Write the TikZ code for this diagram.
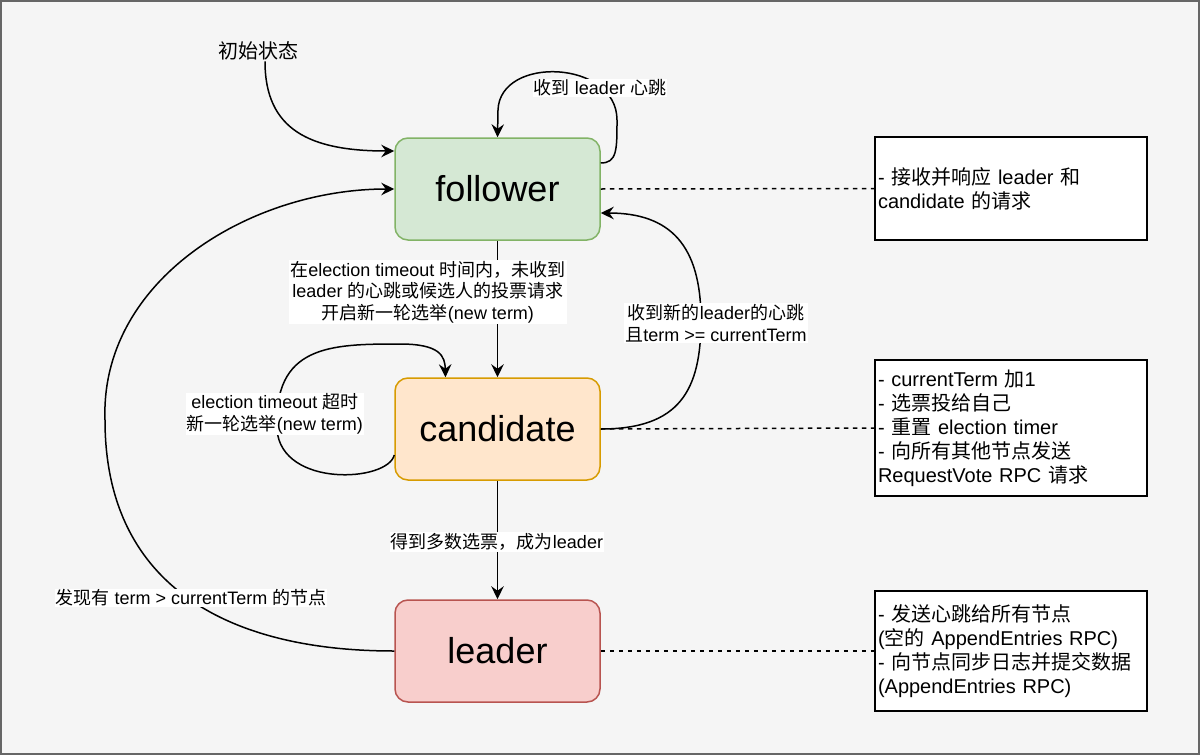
\documentclass[tikz,border=0pt]{standalone}
\usepackage{fontspec}
\setmainfont{Liberation Sans}
\newfontfamily\zhfont{Noto Sans CJK SC}
\newcommand\zh[1]{{\zhfont #1}}
\usetikzlibrary{arrows.meta}
\definecolor{bgc}{HTML}{F5F5F5}
\definecolor{frame}{HTML}{666666}
\definecolor{gfill}{HTML}{D5E8D4}
\definecolor{gline}{HTML}{82B366}
\definecolor{ofill}{HTML}{FFE6CC}
\definecolor{oline}{HTML}{D79B00}
\definecolor{rfill}{HTML}{F8CECC}
\definecolor{rline}{HTML}{B85450}
\begin{document}
\begin{tikzpicture}[x=1pt,y=-1pt,
  statebox/.style={rounded corners=13pt, minimum width=205pt, minimum height=102pt,
    line width=1.5pt, inner sep=0pt, font=\fontsize{36}{43}\selectfont},
  descbox/.style={draw=black, fill=white, line width=1.5pt, minimum width=272pt,
    text width=266pt, align=left, inner xsep=3pt, inner ysep=0pt,
    font=\fontsize{20}{24}\selectfont},
  lbl/.style={fill=white, inner sep=1pt, align=center, font=\fontsize{18}{21.6}\selectfont},
  arr/.style={line width=1.5pt, -{Stealth[length=13pt,width=12.5pt,inset=4.5pt]}},
  dline/.style={line width=1.5pt, dash pattern=on 4.5pt off 4.5pt}]
\useasboundingbox (0,0) rectangle (1200,755);
\fill[bgc] (0,0) rectangle (1200,755);
\draw[frame, line width=2pt] (1,1) rectangle (1199,754);

% states
\node[statebox, draw=gline, fill=gfill] (follower) at (497.5,189) {follower};
\node[statebox, draw=oline, fill=ofill] (candidate) at (497.5,429) {candidate};
\node[statebox, draw=rline, fill=rfill] (leader) at (497.5,651) {leader};

% descriptions
\node[descbox, minimum height=103pt] (fdesc) at (1011,188.5)
  {- \zh{接收并响应} leader \zh{和}\\candidate \zh{的请求}};
\node[descbox, minimum height=136pt] (cdesc) at (1011,428)
  {- currentTerm \zh{加}1\\- \zh{选票投给自己}\\- \zh{重置} election timer\\- \zh{向所有其他节点发送}\\RequestVote RPC \zh{请求}};
\node[descbox, minimum height=120pt] (ldesc) at (1011,651)
  {- \zh{发送心跳给所有节点}\\(\zh{空的} AppendEntries RPC)\\- \zh{向节点同步日志并提交数据}\\(AppendEntries RPC)};

\draw[dline] (follower.east) -- (fdesc.west);
\draw[dline] (candidate.east) -- (cdesc.west);
\draw[dline] (leader.east) -- (ldesc.west);

% initial
\node[inner sep=1pt, font=\fontsize{20}{24}\selectfont] (init) at (258,51) {\zh{初始状态}};
\draw[arr] ([xshift=7pt]init.south) .. controls (265,130) and (310,151) .. ([yshift=38pt]follower.west);

% follower self loop
\draw[arr] ([yshift=26pt]follower.east) .. controls (617,163) and (617,150) .. (617,120)
  .. controls (617,60) and (500,55) .. (498,110) -- (follower.north);
\node[lbl] (lhb) at (600,88) {\zh{收到} leader \zh{心跳}};

% leader -> follower big curve
\draw[arr] (leader.west) .. controls (220,651) and (105,580) .. (105,420)
  .. controls (100,280) and (250,189) .. (follower.west);
\node[lbl] (lhigh) at (191,598) {\zh{发现有} term > currentTerm \zh{的节点}};

% follower -> candidate
\draw[arr] (follower.south) -- (candidate.north);
\node[lbl] (ltimeout) at (428,292) {\zh{在}election timeout \zh{时间内，未收到}\\leader \zh{的心跳或候选人的投票请求}\\\zh{开启新一轮选举}(new term)};

% candidate -> follower
\draw[arr] (candidate.east) .. controls (680,429) and (701,390) .. (701,320)
  .. controls (701,245) and (670,213) .. ([yshift=-24pt]follower.east);
\node[lbl] (lnewleader) at (716,323) {\zh{收到新的}leader\zh{的心跳}\\\zh{且}term >= currentTerm};

% candidate self loop
\draw[arr] ([yshift=-26pt]candidate.west) .. controls (388,482) and (282,488) .. (277,430)
  .. controls (273,345) and (330,344) .. (400,344) .. controls (440,344) and (445,356) .. ([xshift=-52pt]candidate.north);
\node[lbl] (lagain) at (275,414) {election timeout \zh{超时}\\\zh{新一轮选举}(new term)};

% candidate -> leader
\draw[arr] (candidate.south) -- (leader.north);
\node[lbl] (lmajority) at (497,542) {\zh{得到多数选票，成为}leader};
\end{tikzpicture}
\end{document}
